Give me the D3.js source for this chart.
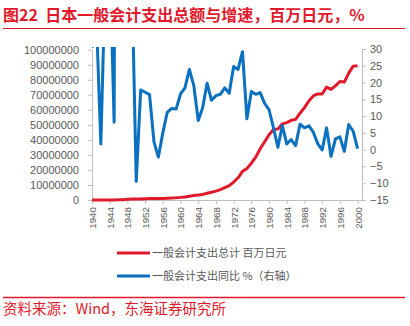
<!DOCTYPE html>
<html>
<head>
<meta charset="utf-8">
<script src="https://cdn.jsdelivr.net/npm/d3@7"></script>
<style>
  body { margin: 0; background: #fff; }
  svg { display: block; font-family: 'Liberation Sans', 'Noto Sans CJK SC', sans-serif; }
</style>
</head>
<body>
<svg id="chart"></svg>
<script>
'use strict';

// years on the category axis
const years = [1940, 1941, 1942, 1943, 1944, 1945, 1946, 1947, 1948, 1949,
  1950, 1951, 1952, 1953, 1954, 1955, 1956, 1957, 1958, 1959,
  1960, 1961, 1962, 1963, 1964, 1965, 1966, 1967, 1968, 1969,
  1970, 1971, 1972, 1973, 1974, 1975, 1976, 1977, 1978, 1979,
  1980, 1981, 1982, 1983, 1984, 1985, 1986, 1987, 1988, 1989,
  1990, 1991, 1992, 1993, 1994, 1995, 1996, 1997, 1998, 1999, 2000];

// general account expenditure, million yen
const spending = [5860, 8134, 8276, 12552, 19872, 21496, 115207, 205841, 461974, 699448,
  633295, 746126, 873942, 1017236, 1040764, 1018169, 1069219, 1187569, 1333097, 1495034,
  1743146, 2063581, 2556601, 3044316, 3309783, 3723041, 4459199, 5113068, 5937065, 6917780,
  8187701, 9561213, 11932104, 14778309, 19099698, 20860859, 24468021, 28514291, 34096026, 38790084,
  43405007, 46921351, 47245186, 50635438, 51481298, 53004549, 53640394, 57731142, 61471068, 65858577,
  69269219, 70547185, 70497447, 75102490, 73614419, 75939416, 78847610, 78469968, 84391759, 89037492, 89321829];

// year-on-year growth, %
const growth = [30.4, 38.8, 1.7, 51.7, 58.3, 8.2, 436, 78.7, 124.4, 51.4,
  -9.5, 17.8, 17.1, 16.4, 2.3, -2.2, 5.0, 11.1, 12.3, 12.1,
  16.6, 18.4, 23.9, 19.1, 8.7, 12.5, 19.8, 14.7, 16.1, 16.5,
  18.4, 16.8, 24.8, 23.9, 29.2, 9.2, 17.3, 16.5, 17.0, 13.8,
  11.9, 6.5, 0.7, 7.2, 1.7, 3.0, 1.2, 7.6, 6.5, 7.1,
  5.2, 1.8, -0.1, 6.5, -2.0, 3.2, 3.8, -0.5, 7.5, 5.5, 0.3];

const leftTicks = [0, 10000000, 20000000, 30000000, 40000000, 50000000,
  60000000, 70000000, 80000000, 90000000, 100000000];
const rightTicks = [-15, -10, -5, 0, 5, 10, 15, 20, 25, 30];
const yearTicks = [1940, 1944, 1948, 1952, 1956, 1960, 1964, 1968, 1972, 1976,
  1980, 1984, 1988, 1992, 1996, 2000];

const title = '图22  日本一般会计支出总额与增速，百万日元，%';
const legendLabels = ['一般会计支出总计 百万日元', '一般会计支出同比 %（右轴）'];
const source = '资料来源：Wind，东海证券研究所';

const width = 410;
const height = 326;
const red = '#e0192b';
const blue = '#0a70c0';
const grey = '#595959';
const axisGrey = '#bfbfbf';

const plot = { left: 92, right: 362, top: 49, bottom: 200 };

const svg = d3.select('#chart')
    .attr('width', width)
    .attr('height', height);

// title and header rule
svg.append('text')
    .attr('x', 3)
    .attr('y', 21)
    .attr('fill', red)
    .style('font-size', '16px')
    .style('font-weight', 'bold')
    .style('white-space', 'pre')
    .style('font-family', "'Noto Sans CJK SC', sans-serif")
    .text(title);
svg.append('line')
    .attr('x1', 3).attr('x2', 405)
    .attr('y1', 28.5).attr('y2', 28.5)
    .attr('stroke', red)
    .attr('stroke-width', 1.2);

const x = d3.scaleLinear()
    .domain([1940, 2001])
    .range([plot.left, plot.right]);
const yLeft = d3.scaleLinear()
    .domain([0, 100000000])
    .range([plot.bottom, plot.top + 0.7]);
const yRight = d3.scaleLinear()
    .domain([-15, 30])
    .range([plot.bottom, plot.top]);

// axes
const leftAxis = svg.append('g')
    .attr('transform', 'translate(' + plot.left + ',0)')
    .call(d3.axisLeft(yLeft)
        .tickValues(leftTicks)
        .tickFormat(d3.format('d'))
        .tickSize(4)
        .tickSizeOuter(0)
        .tickPadding(9));
const rightAxis = svg.append('g')
    .attr('transform', 'translate(' + plot.right + ',0)')
    .call(d3.axisRight(yRight)
        .tickValues(rightTicks)
        .tickSize(4)
        .tickSizeOuter(0)
        .tickPadding(4));
const bottomAxis = svg.append('g')
    .attr('transform', 'translate(0,' + plot.bottom + ')')
    .call(d3.axisBottom(x)
        .tickValues(yearTicks)
        .tickFormat(d3.format('d'))
        .tickSize(4)
        .tickSizeOuter(0));
bottomAxis.selectAll('text')
    .attr('transform', 'rotate(-90)')
    .attr('text-anchor', 'end')
    .attr('x', -7)
    .attr('y', 0)
    .attr('dy', '0.35em')
    .style('font-size', '9.8px');

[leftAxis, rightAxis, bottomAxis].forEach((g) => {
  g.selectAll('.domain, line').attr('stroke', axisGrey);
  g.selectAll('text')
      .attr('fill', grey)
      .style('font-family', "'Liberation Sans', sans-serif");
});
leftAxis.selectAll('text').style('font-size', '11px');
rightAxis.selectAll('text').style('font-size', '11px');

svg.append('clipPath')
    .attr('id', 'plot-clip')
    .append('rect')
    .attr('x', plot.left)
    .attr('y', plot.top - 2)
    .attr('width', plot.right - plot.left)
    .attr('height', plot.bottom - plot.top + 4);

const spendLine = d3.line()
    .x((d, i) => x(years[i]))
    .y((d) => yLeft(d));
const growthLine = d3.line()
    .x((d, i) => x(years[i]))
    .y((d) => yRight(d));

svg.append('path')
    .datum(spending)
    .attr('fill', 'none')
    .attr('stroke', red)
    .attr('stroke-width', 3)
    .attr('stroke-linejoin', 'round')
    .attr('d', spendLine);

svg.append('path')
    .datum(growth)
    .attr('clip-path', 'url(#plot-clip)')
    .attr('fill', 'none')
    .attr('stroke', blue)
    .attr('stroke-width', 3)
    .attr('stroke-linejoin', 'round')
    .attr('d', growthLine);

// legend
const legend = svg.append('g')
    .selectAll('g')
    .data(legendLabels)
    .enter().append('g')
    .attr('transform', (d, i) => 'translate(117,' + (253 + i * 23) + ')');
legend.append('line')
    .attr('x1', 0).attr('x2', 33)
    .attr('y1', 0).attr('y2', 0)
    .attr('stroke', (d, i) => i === 0 ? red : blue)
    .attr('stroke-width', 3);
legend.append('text')
    .attr('x', 35)
    .attr('y', 0)
    .attr('dy', '0.36em')
    .attr('fill', grey)
    .style('font-size', '11px')
    .style('font-family', "'Noto Sans CJK SC', sans-serif")
    .text((d) => d);

// source footer
svg.append('line')
    .attr('x1', 3).attr('x2', 405)
    .attr('y1', 297.5).attr('y2', 297.5)
    .attr('stroke', red)
    .attr('stroke-width', 1.5);
svg.append('text')
    .attr('x', 3)
    .attr('y', 314)
    .attr('fill', red)
    .style('font-size', '14.5px')
    .style('font-family', "'Noto Sans CJK SC', sans-serif")
    .text(source);
</script>
</body>
</html>
